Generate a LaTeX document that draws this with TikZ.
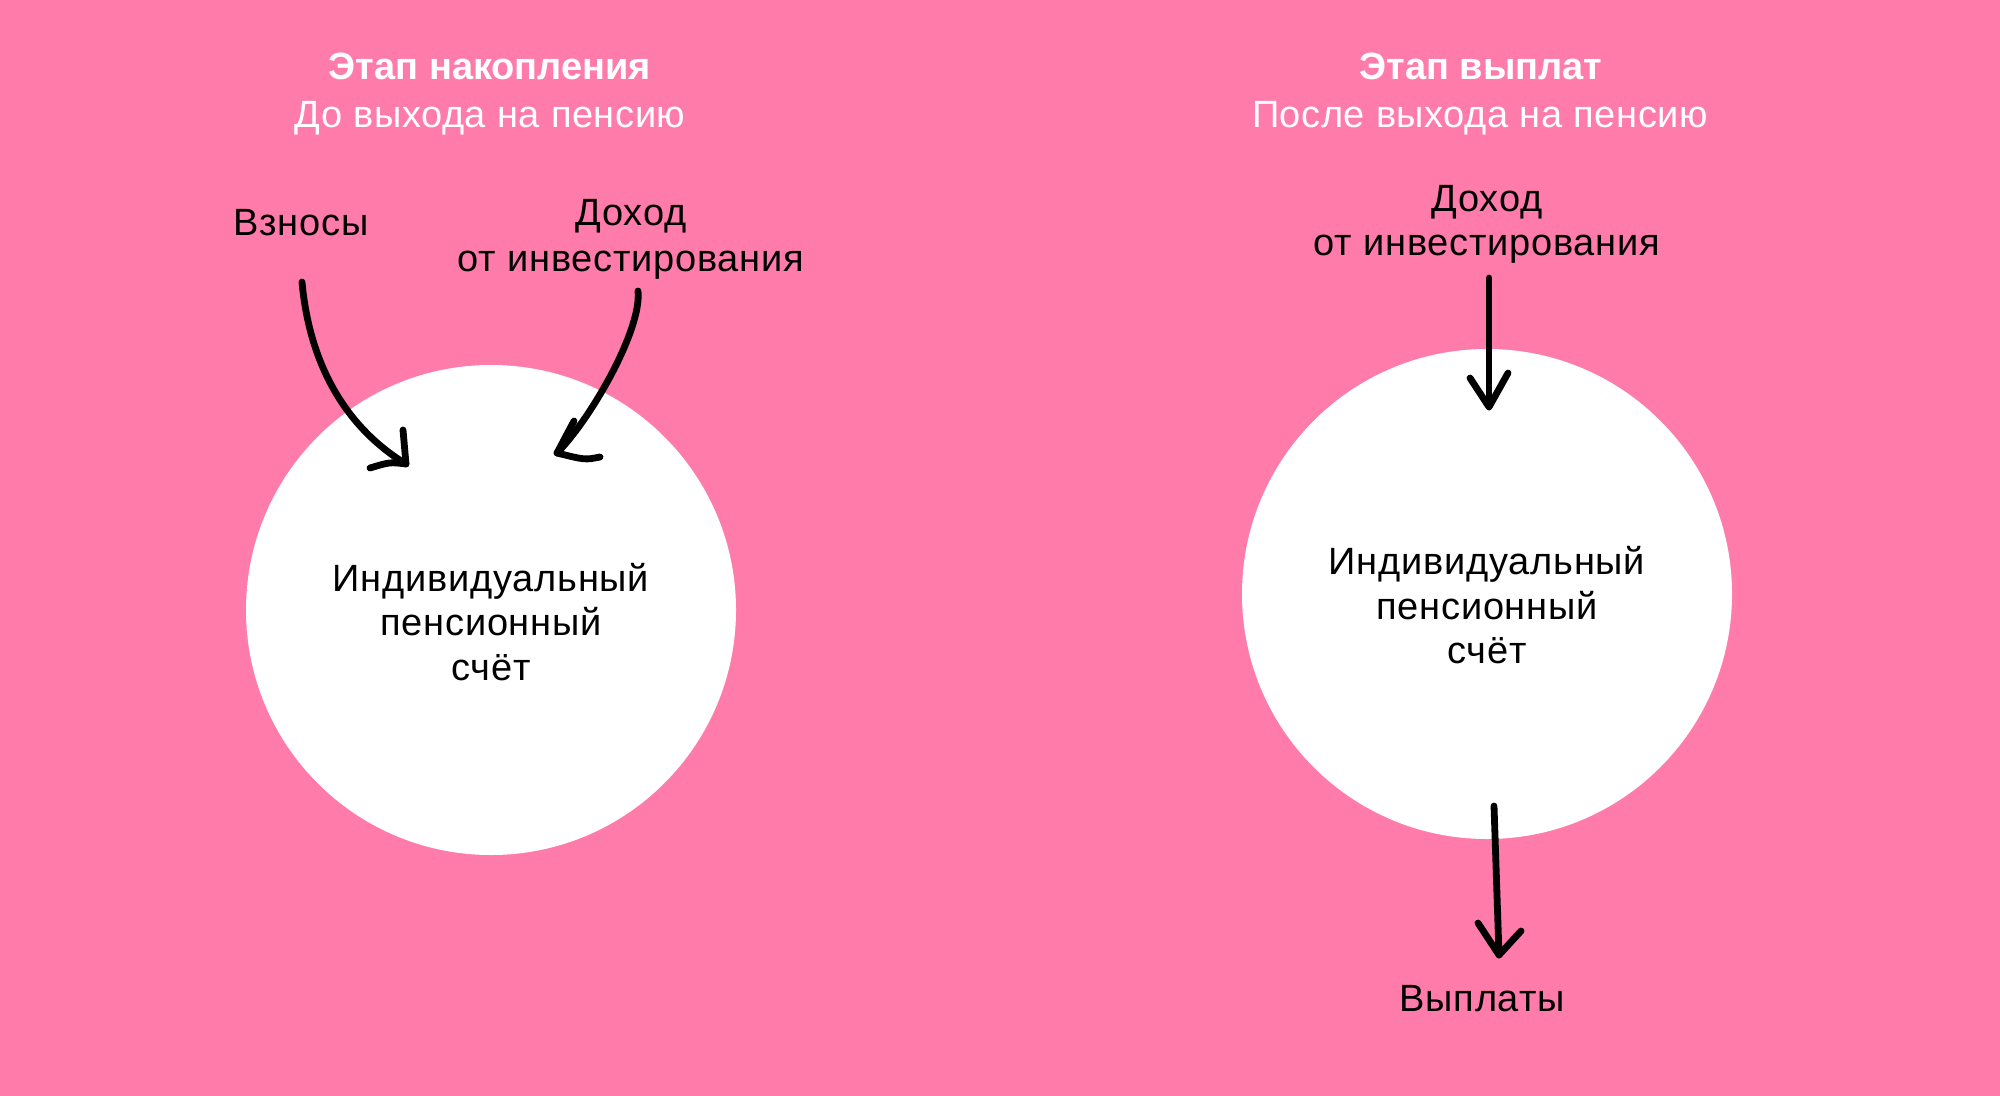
\documentclass[tikz,border=0pt]{standalone}
\usepackage{fontspec}
\setmainfont{Liberation Sans}
\newfontfamily\regfont[LetterSpace=2]{Liberation Sans}
\newfontfamily\subfont[LetterSpace=1.5]{Liberation Sans}
\definecolor{bgpink}{HTML}{FF7BA9}
\tikzset{
  lbl/.style={anchor=base, inner sep=0pt, font=\regfont\fontsize{19}{22}\selectfont, text=black},
  ttl/.style={anchor=base, inner sep=0pt, font=\fontsize{19}{22}\selectfont\bfseries, text=white},
  sub/.style={anchor=base, inner sep=0pt, font=\subfont\fontsize{19}{22}\selectfont, text=white},
  hand/.style={draw=black, line width=3.4pt, line cap=round, line join=round},
  disc/.style={circle, fill=white, minimum size=245pt, inner sep=0pt}
}
\begin{document}
\begin{tikzpicture}[x=0.5pt, y=-0.5pt]
\fill[bgpink] (0,0) rectangle (2000,1096);
\useasboundingbox (0,0) rectangle (2000,1096);

% circles
\node[disc] (c1) at (491,610) {};
\node[disc] (c2) at (1487,594) {};

% left titles
\node[ttl] (t1) at (490,80) {Этап накопления};
\node[sub] (s1) at (490,128) {До выхода на пенсию};
% right titles
\node[ttl] (t2) at (1481,80) {Этап выплат};
\node[sub] (s2) at (1480,128) {После выхода на пенсию};

% left labels
\node[lbl] (vz) at (301,236) {Взносы};
\node[lbl] (d1a) at (631,226) {Доход};
\node[lbl] (d1b) at (631,272) {от инвестирования};
% right labels
\node[lbl] (d2a) at (1487,212) {Доход};
\node[lbl] (d2b) at (1487,256) {от инвестирования};
\node[lbl] (vy) at (1482,1011) {Выплаты};

% circle texts
\node[lbl] (i1a) at (491,591) {Индивидуальный};
\node[lbl] (i1b) at (491,635) {пенсионный};
\node[lbl] (i1c) at (491,680) {счёт};
\node[lbl] (i2a) at (1487,574) {Индивидуальный};
\node[lbl] (i2b) at (1487,619) {пенсионный};
\node[lbl] (i2c) at (1487,663) {счёт};

% arrow coordinates
\coordinate (a1s) at (302,282);
\coordinate (a1e) at (406,464);
\coordinate (a1w1) at (403,430);
\coordinate (a1w2) at (370,468);

\coordinate (a2s) at (638,291);
\coordinate (a2e) at (557,453);
\coordinate (a2w1) at (574,421);
\coordinate (a2w2) at (600,457);

\coordinate (a3s) at (1489,278);
\coordinate (a3e) at (1489,407);
\coordinate (a3w1) at (1470,378);
\coordinate (a3w2) at (1508,373);

\coordinate (a4s) at (1494,806);
\coordinate (a4e) at (1499,955);
\coordinate (a4w1) at (1478,923);
\coordinate (a4w2) at (1521,931);

% arrows
\draw[hand] (a1s) .. controls (310,370) and (350,430) .. (a1e);
\draw[hand] (a1w1) -- (a1e) .. controls (390,462) .. (a1w2);

\draw[hand] (a2s) .. controls (642,330) and (590,420) .. (a2e);
\draw[hand] (a2w1) .. controls (566,436) .. (a2e) .. controls (585,460) .. (a2w2);

\draw[hand] (a3s) -- (a3e);
\draw[hand] (a3w1) -- (a3e) -- (a3w2);

\draw[hand] (a4s) -- (a4e);
\draw[hand] (a4w1) -- (a4e) -- (a4w2);
\end{tikzpicture}
\end{document}
